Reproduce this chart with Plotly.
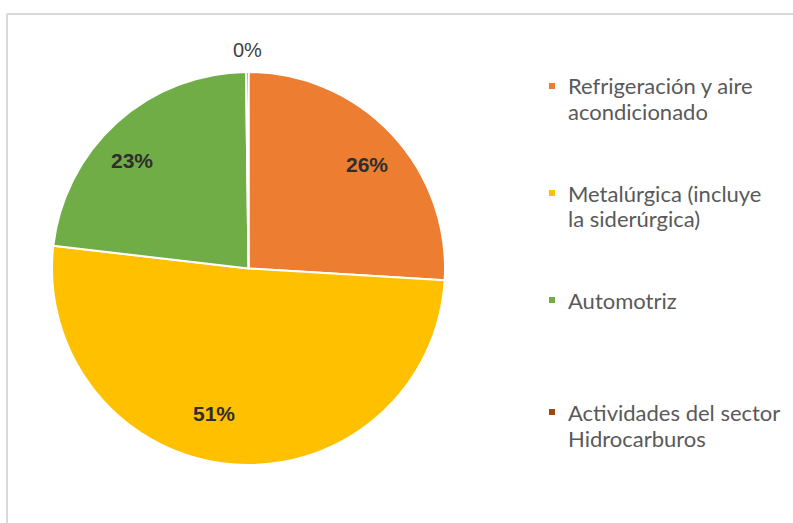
import math
import plotly.graph_objects as go

# Share of each sector (percent)
categories = [
    "Refrigeración y aire acondicionado",
    "Metalúrgica (incluye la siderúrgica)",
    "Automotriz",
    "Actividades del sector Hidrocarburos",
]
legend_lines = [
    ["Refrigeración y aire", "acondicionado"],
    ["Metalúrgica (incluye", "la siderúrgica)"],
    ["Automotriz"],
    ["Actividades del sector", "Hidrocarburos"],
]
values = [26, 51, 23, 0.2]
colors = ["#ED7D31", "#FFC000", "#70AD47", "#9E480E"]

W, H = 793, 523

# Pie placement (pixels)
cx, cy, r = 248.5, 268.5, 196.5
dom_x = [(cx - r) / W, (cx + r) / W]
dom_y = [(H - cy - r) / H, (H - cy + r) / H]

fig = go.Figure()
fig.add_trace(go.Pie(
    labels=categories,
    values=values,
    sort=False,
    direction="clockwise",
    rotation=0,
    marker=dict(colors=colors, line=dict(color="white", width=2)),
    textinfo="none",
    showlegend=False,
    hoverinfo="label+percent",
    domain=dict(x=dom_x, y=dom_y),
))

# Percentage labels placed around each slice's mid-angle
label_radius = [0.80, 0.76, 0.81, 1.11]
label_turn = [2, 8.5, -5, 0]   # degrees, small nudges from the mid-angle
total = sum(values)
cum = 0.0
for i, v in enumerate(values):
    mid = (cum + v / 2) / total * 360 + label_turn[i]
    cum += v
    rr = label_radius[i] * r
    px = cx + rr * math.sin(math.radians(mid))
    py = cy - rr * math.cos(math.radians(mid))
    inside = label_radius[i] < 1
    fig.add_annotation(
        x=px / W, y=(H - py) / H, xref="paper", yref="paper",
        text=f"{round(v / total * 100)}%", showarrow=False,
        xanchor="center", yanchor="middle",
        font=dict(family="Arial", size=21 if inside else 20,
                  color="#2E2E2E" if inside else "#404040",
                  weight="bold" if inside else "normal"),
    )

# Legend drawn as swatches + text
legend_font = dict(family="Lato", size=22, color="#595959")
item_top = [86, 193, 300, 412]
line_gap = 26
text_x = 566
for i, lines in enumerate(legend_lines):
    y0 = item_top[i]
    fig.add_shape(
        type="rect", xref="paper", yref="paper",
        x0=549 / W, x1=555 / W,
        y0=(H - y0 - 3) / H, y1=(H - y0 + 3) / H,
        fillcolor=colors[i], line=dict(width=0),
    )
    for j, line in enumerate(lines):
        fig.add_annotation(
            x=text_x / W, y=(H - (y0 + j * line_gap)) / H,
            xref="paper", yref="paper",
            text=line, showarrow=False,
            xanchor="left", yanchor="middle",
            font=legend_font,
        )

# Frame lines along the top and left edges
fig.add_shape(type="line", xref="paper", yref="paper",
              x0=7 / W, x1=1, y0=(H - 14) / H, y1=(H - 14) / H,
              line=dict(color="#D9D9D9", width=2))
fig.add_shape(type="line", xref="paper", yref="paper",
              x0=7 / W, x1=7 / W, y0=0, y1=(H - 14) / H,
              line=dict(color="#D9D9D9", width=2))

fig.update_layout(
    width=W, height=H,
    margin=dict(l=0, r=0, t=0, b=0),
    paper_bgcolor="white",
    plot_bgcolor="white",
)

fig.write_html("out.html")
